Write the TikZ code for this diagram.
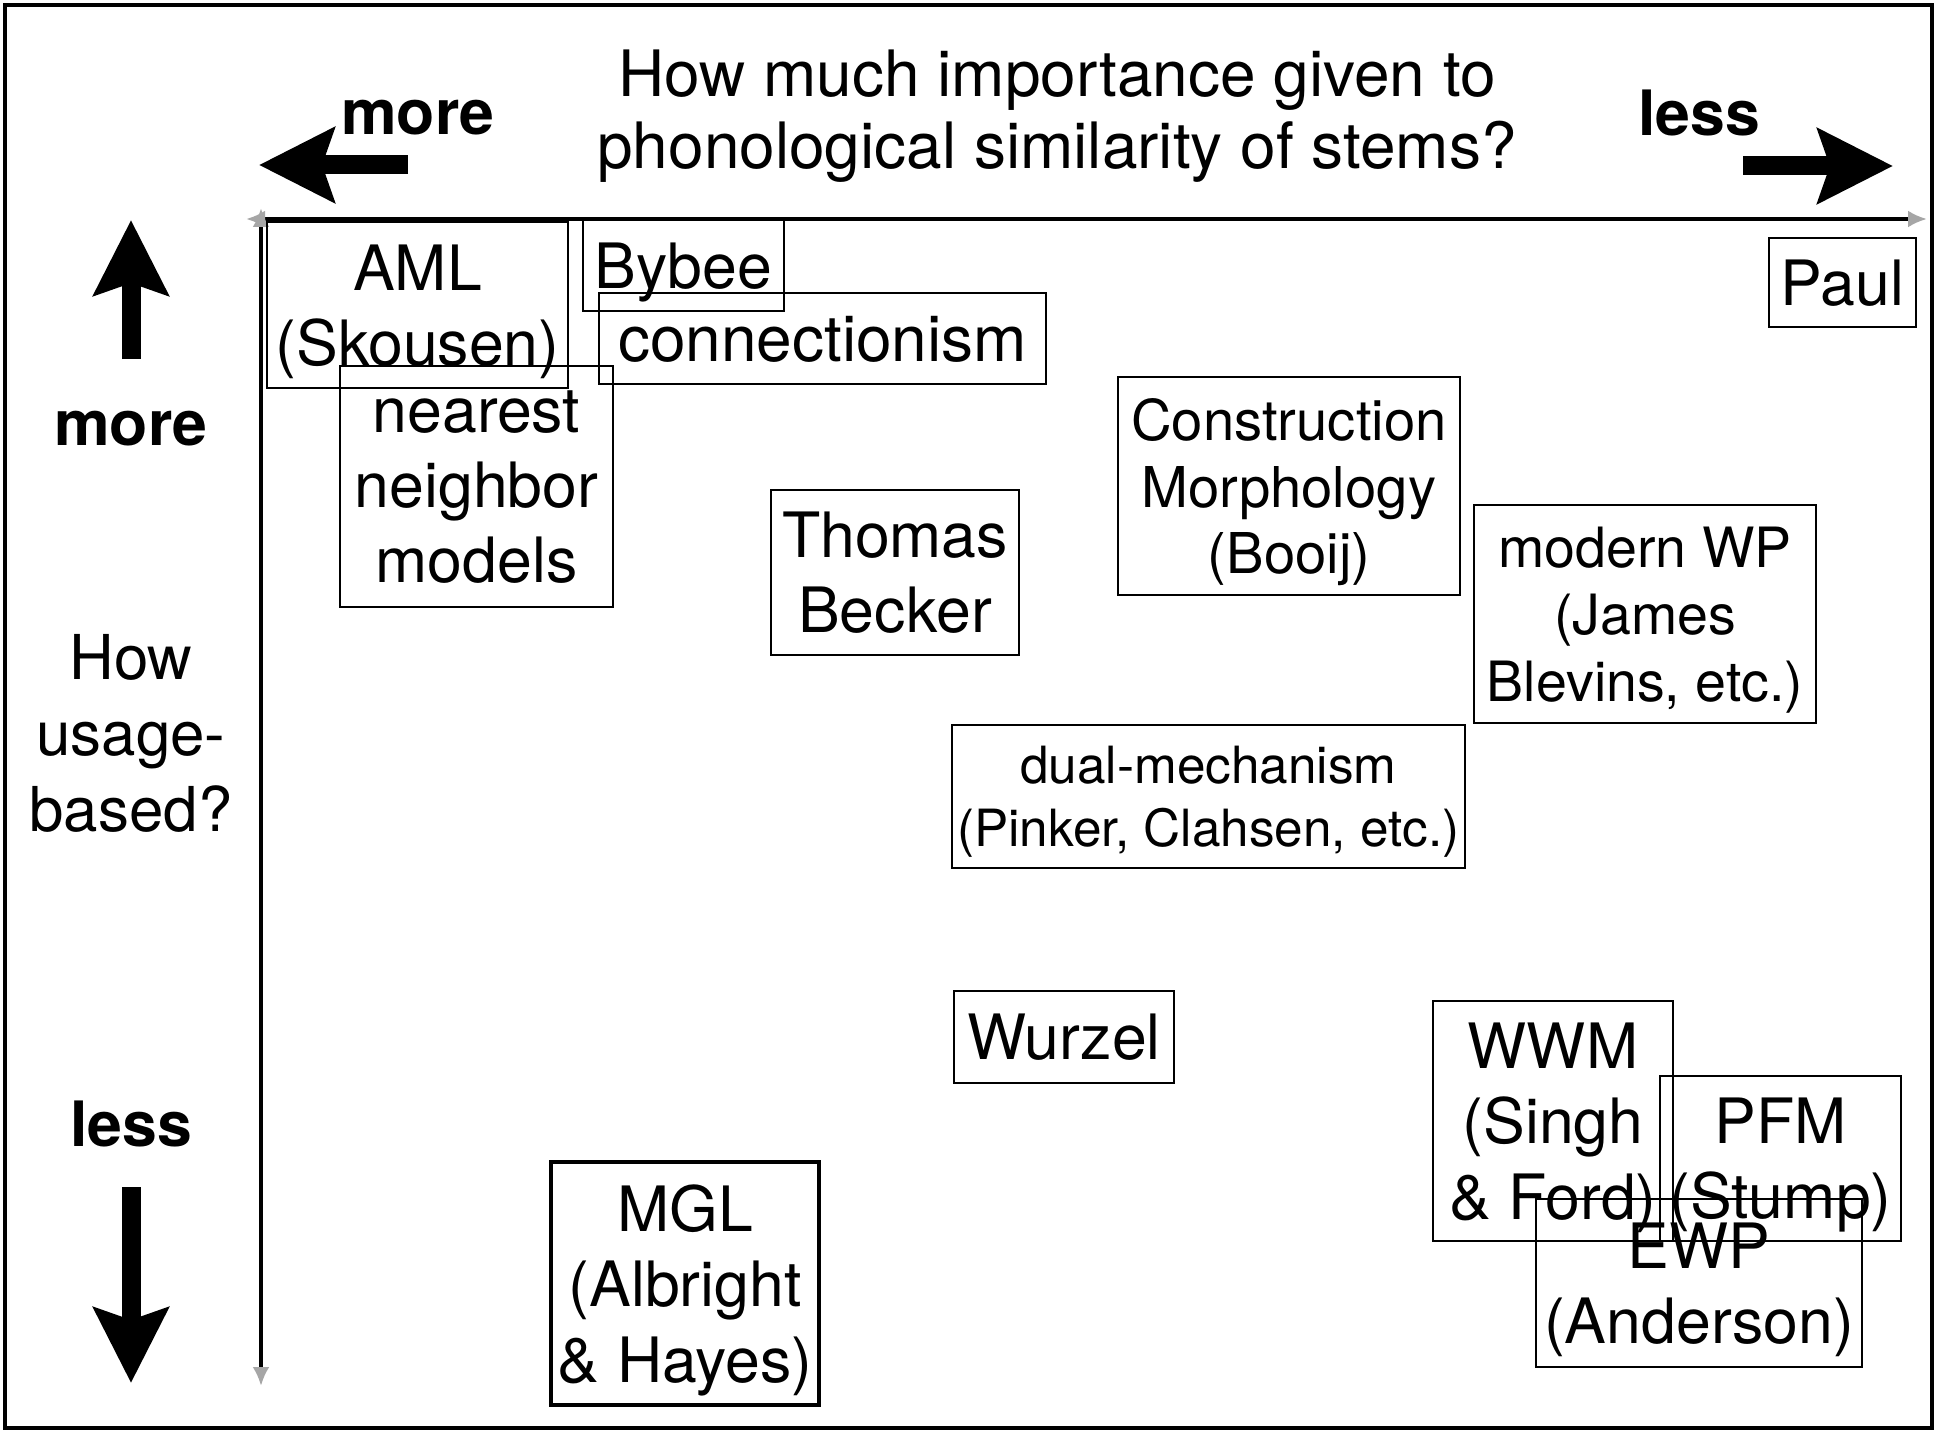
\documentclass[tikz,border=0pt]{standalone}
\usepackage{fontspec}
\setmainfont{TeX Gyre Heros}
\usetikzlibrary{arrows.meta}

\begin{document}
\begin{tikzpicture}[x=1cm,y=-1cm,
  box/.style={draw,line width=0.6pt,inner sep=0pt,align=center,text depth=0pt,font=\fontsize{17.8}{21.4}\selectfont},
  boxsmall/.style={box,font=\fontsize{16}{19}\selectfont},
  lbl/.style={align=center,inner sep=0pt,font=\fontsize{17.6}{21.6}\selectfont},
  lblbold/.style={inner sep=0pt,font=\fontsize{17.8}{21.3}\selectfont\bfseries},
  fat/.style={line width=0.19cm,-{Stealth[length=0.75cm,width=0.74cm,inset=0.12cm]}},
  axis/.style={line width=1pt,{Latex[color=gray!70,length=0.19cm,width=0.17cm]}-{Latex[color=gray!70,length=0.19cm,width=0.17cm]}}]
\useasboundingbox (0,0) rectangle (19.37,14.32);
\draw[line width=1.3pt] (0.05,0.05) rectangle (19.32,14.28);

% axis questions
\node[lbl,font=\fontsize{18.2}{20.4}\selectfont] (title) at (10.57,1.16) {How much importance given to\\phonological similarity of stems?};
\node[lblbold] (morex) at (4.18,1.18) {more};
\node[lblbold] (lessx) at (16.99,1.13) {less};
\node[lblbold] (morey) at (1.31,4.29) {more};
\node[lblbold] (lessy) at (1.31,11.24) {less};
\node[lbl] (usage) at (1.31,7.33) {How\\usage-\\based?};

% big arrows
\coordinate (xl0) at (4.08,1.65);
\coordinate (xl1) at (2.59,1.65);
\coordinate (xr0) at (17.43,1.66);
\coordinate (xr1) at (18.93,1.66);
\coordinate (yu0) at (1.31,3.59);
\coordinate (yu1) at (1.31,2.20);
\coordinate (yd0) at (1.31,11.87);
\coordinate (yd1) at (1.31,13.83);
\draw[fat] (xl0) -- (xl1);
\draw[fat] (xr0) -- (xr1);
\draw[fat] (yu0) -- (yu1);
\draw[fat] (yd0) -- (yd1);

% axes
\coordinate (hx0) at (2.46,2.19);
\coordinate (hx1) at (19.27,2.19);
\coordinate (vy0) at (2.61,2.08);
\coordinate (vy1) at (2.61,13.86);
\draw[axis] (hx0) -- (hx1);
\draw[axis] (vy0) -- (vy1);

% models
\node[box,minimum width=3.01cm,minimum height=1.66cm] (aml) at (4.175,3.05) {AML\\(Skousen)};
\node[box,minimum width=2.01cm,minimum height=0.91cm] (bybee) at (6.835,2.655) {Bybee};
\node[box,font=\fontsize{18.2}{21.4}\selectfont,minimum width=4.47cm,minimum height=0.91cm] (connect) at (8.225,3.385) {connectionism};
\node[box,minimum width=2.73cm,minimum height=2.41cm] (nearest) at (4.765,4.865) {nearest\\neighbor\\models};
\node[box,minimum width=2.48cm,minimum height=1.65cm] (becker) at (8.95,5.725) {Thomas\\Becker};
\node[boxsmall,minimum width=3.42cm,minimum height=2.18cm] (cxm) at (12.89,4.86) {Construction\\Morphology\\(Booij)};
\node[box,minimum width=1.47cm,minimum height=0.89cm] (paul) at (18.425,2.825) {Paul};
\node[boxsmall,font=\fontsize{15.8}{19}\selectfont,minimum width=3.42cm,minimum height=2.18cm] (modwp) at (16.45,6.14) {modern WP\\(James\\Blevins, etc.)};
\node[box,font=\fontsize{14.6}{17.8}\selectfont,minimum width=5.13cm,minimum height=1.43cm] (dual) at (12.085,7.965) {dual-mechanism\\(Pinker, Clahsen, etc.)};
\node[box,minimum width=2.2cm,minimum height=0.92cm] (wurzel) at (10.64,10.37) {Wurzel};
\node[box,minimum width=2.4cm,minimum height=2.4cm] (wwm) at (15.53,11.21) {WWM\\(Singh\\\& Ford)};
\node[box,minimum width=2.41cm,minimum height=1.65cm] (pfm) at (17.805,11.585) {PFM\\(Stump)};
\node[box,minimum width=3.26cm,minimum height=1.68cm] (ewp) at (16.99,12.83) {EWP\\(Anderson)};
\node[box,line width=1.3pt,minimum width=2.68cm,minimum height=2.43cm] (mgl) at (6.85,12.835) {MGL\\(Albright\\\& Hayes)};
\end{tikzpicture}
\end{document}
